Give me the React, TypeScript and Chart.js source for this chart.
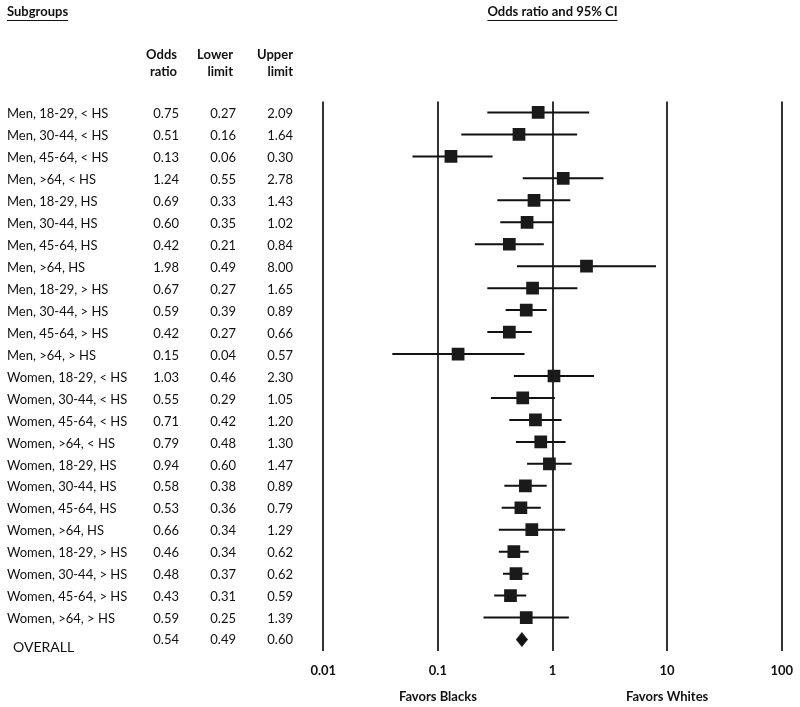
import { useEffect, useRef } from 'react';
import { Chart, registerables } from 'chart.js';

Chart.register(...registerables);

const SUBGROUPS = [
  'Men, 18-29, < HS', 'Men, 30-44, < HS', 'Men, 45-64, < HS', 'Men, >64, < HS',
  'Men, 18-29, HS', 'Men, 30-44, HS', 'Men, 45-64, HS', 'Men, >64, HS',
  'Men, 18-29, > HS', 'Men, 30-44, > HS', 'Men, 45-64, > HS', 'Men, >64, > HS',
  'Women, 18-29, < HS', 'Women, 30-44, < HS', 'Women, 45-64, < HS', 'Women, >64, < HS',
  'Women, 18-29, HS', 'Women, 30-44, HS', 'Women, 45-64, HS', 'Women, >64, HS',
  'Women, 18-29, > HS', 'Women, 30-44, > HS', 'Women, 45-64, > HS', 'Women, >64, > HS',
];
const ODDS = [0.75, 0.51, 0.13, 1.24, 0.69, 0.60, 0.42, 1.98, 0.67, 0.59, 0.42, 0.15,
  1.03, 0.55, 0.71, 0.79, 0.94, 0.58, 0.53, 0.66, 0.46, 0.48, 0.43, 0.59];
const LOWER = [0.27, 0.16, 0.06, 0.55, 0.33, 0.35, 0.21, 0.49, 0.27, 0.39, 0.27, 0.04,
  0.46, 0.29, 0.42, 0.48, 0.60, 0.38, 0.36, 0.34, 0.34, 0.37, 0.31, 0.25];
const UPPER = [2.09, 1.64, 0.30, 2.78, 1.43, 1.02, 0.84, 8.00, 1.65, 0.89, 0.66, 0.57,
  2.30, 1.05, 1.20, 1.30, 1.47, 0.89, 0.79, 1.29, 0.62, 0.62, 0.59, 1.39];

const OVERALL_LABEL = 'OVERALL';
const OVERALL_ODDS = 0.54;
const OVERALL_LOWER = 0.49;
const OVERALL_UPPER = 0.60;

const X_TICKS = [0.01, 0.1, 1, 10, 100];
const X_TICK_LABELS = ['0.01', '0.1', '1', '10', '100'];

const COL_HEADERS = [['Odds', 'ratio'], ['Lower', 'limit'], ['Upper', 'limit']];
const SIDE_LABELS = [
  { text: 'Favors Blacks', at: 0.1 },
  { text: 'Favors Whites', at: 10 },
];
const LEFT_TITLE = 'Subgroups';
const RIGHT_TITLE = 'Odds ratio and 95% CI';

const FONT = 'Lato, "Open Sans", sans-serif';
const INK = '#111111';

const tablePlugin = {
  id: 'forestTable',
  afterDraw(chart: any) {
    const { ctx } = chart;
    const x = chart.scales.x;
    const y = chart.scales.y;
    ctx.save();
    ctx.fillStyle = INK;
    ctx.strokeStyle = INK;
    ctx.textBaseline = 'middle';

    // titles
    ctx.font = `bold 13px ${FONT}`;
    ctx.textAlign = 'left';
    ctx.fillText(LEFT_TITLE, 7, 12);
    const w1 = ctx.measureText(LEFT_TITLE).width;
    ctx.lineWidth = 1;
    ctx.beginPath();
    ctx.moveTo(7, 20.5);
    ctx.lineTo(7 + w1, 20.5);
    ctx.stroke();

    const cx = x.getPixelForValue(1);
    ctx.textAlign = 'center';
    ctx.fillText(RIGHT_TITLE, cx, 12);
    const w2 = ctx.measureText(RIGHT_TITLE).width;
    ctx.beginPath();
    ctx.moveTo(cx - w2 / 2, 20.5);
    ctx.lineTo(cx + w2 / 2, 20.5);
    ctx.stroke();

    // column headers
    const headerRight = [177, 233, 293];
    ctx.textAlign = 'right';
    COL_HEADERS.forEach((h, i) => {
      ctx.fillText(h[0], headerRight[i], 55);
      ctx.fillText(h[1], headerRight[i], 72);
    });

    // rows
    const valRight = [179, 236, 293];
    ctx.font = `13px ${FONT}`;
    SUBGROUPS.forEach((label, i) => {
      const py = y.getPixelForValue(i) + 1.5;
      ctx.textAlign = 'left';
      ctx.fillText(label, 7, py);
      ctx.textAlign = 'right';
      ctx.fillText(ODDS[i].toFixed(2), valRight[0], py);
      ctx.fillText(LOWER[i].toFixed(2), valRight[1], py);
      ctx.fillText(UPPER[i].toFixed(2), valRight[2], py);
    });
    const oy = y.getPixelForValue(SUBGROUPS.length) + 0.5;
    ctx.fillText(OVERALL_ODDS.toFixed(2), valRight[0], oy);
    ctx.fillText(OVERALL_LOWER.toFixed(2), valRight[1], oy);
    ctx.fillText(OVERALL_UPPER.toFixed(2), valRight[2], oy);
    ctx.textAlign = 'left';
    ctx.font = `14px ${FONT}`;
    ctx.fillText(OVERALL_LABEL, 13, oy + 7);

    // favors labels
    ctx.font = `bold 13px ${FONT}`;
    ctx.textAlign = 'center';
    SIDE_LABELS.forEach((s) => {
      ctx.fillText(s.text, x.getPixelForValue(s.at), 697);
    });
    ctx.restore();
  },
};

export default function App() {
  const ref = useRef<HTMLCanvasElement | null>(null);

  useEffect(() => {
    if (!ref.current) return;
    const diamond = document.createElement('canvas');
    diamond.width = 12;
    diamond.height = 15;
    const dctx = diamond.getContext('2d')!;
    dctx.fillStyle = INK;
    dctx.beginPath();
    dctx.moveTo(0, 7.5);
    dctx.lineTo(6, 0);
    dctx.lineTo(12, 7.5);
    dctx.lineTo(6, 15);
    dctx.closePath();
    dctx.fill();

    const ciData: any[] = [];
    SUBGROUPS.forEach((_, i) => {
      ciData.push({ x: LOWER[i], y: i });
      ciData.push({ x: UPPER[i], y: i });
      ciData.push({ x: UPPER[i], y: null });
    });

    const chart = new Chart(ref.current, {
      type: 'scatter',
      data: {
        datasets: [
          {
            label: 'Odds ratio',
            data: SUBGROUPS.map((_, i) => ({ x: ODDS[i], y: i })),
            pointStyle: 'rect',
            pointRadius: 9,
            pointHoverRadius: 9,
            backgroundColor: '#1a1a1a',
            borderWidth: 0,
            order: 0,
          },
          {
            label: 'Overall',
            data: [{ x: OVERALL_ODDS, y: SUBGROUPS.length }],
            pointStyle: diamond as any,
            pointRadius: 7,
            order: 0,
          },
          {
            label: '95% CI',
            data: ciData,
            showLine: true,
            spanGaps: false,
            borderColor: INK,
            borderWidth: 2,
            pointRadius: 0,
            pointHoverRadius: 0,
            order: 1,
          } as any,
        ],
      },
      options: {
        animation: false,
        responsive: false,
        devicePixelRatio: 1,
        layout: { padding: { left: 323.3, right: 18.3, top: 101.5, bottom: 0 } },
        plugins: { legend: { display: false }, tooltip: { enabled: false } },
        scales: {
          x: {
            type: 'logarithmic',
            min: 0.01,
            max: 100,
            afterBuildTicks: (scale: any) => {
              scale.ticks = X_TICKS.map((v) => ({ value: v }));
            },
            afterFit: (scale: any) => {
              scale.height = 56.5;
              scale.paddingLeft = 0;
              scale.paddingRight = 0;
            },
            ticks: {
              autoSkip: false,
              maxRotation: 0,
              padding: 13,
              color: INK,
              font: { family: FONT, size: 13, weight: 'bold' },
              callback: (v: any) => {
                const idx = X_TICKS.indexOf(Number(v));
                return idx >= 0 ? X_TICK_LABELS[idx] : '';
              },
            },
            grid: { color: '#333333', lineWidth: 2, drawTicks: false },
            border: { display: false },
          },
          y: {
            type: 'linear',
            reverse: true,
            min: -0.5,
            max: SUBGROUPS.length + 0.5,
            display: false,
          },
        },
      },
      plugins: [tablePlugin],
    } as any);
    return () => chart.destroy();
  }, []);

  return (
    <div style={{ position: 'fixed', left: 0, top: 0, width: 800, height: 707, background: '#fff' }}>
      <canvas ref={ref} width={800} height={707} style={{ width: 800, height: 707, display: 'block' }} />
    </div>
  );
}
